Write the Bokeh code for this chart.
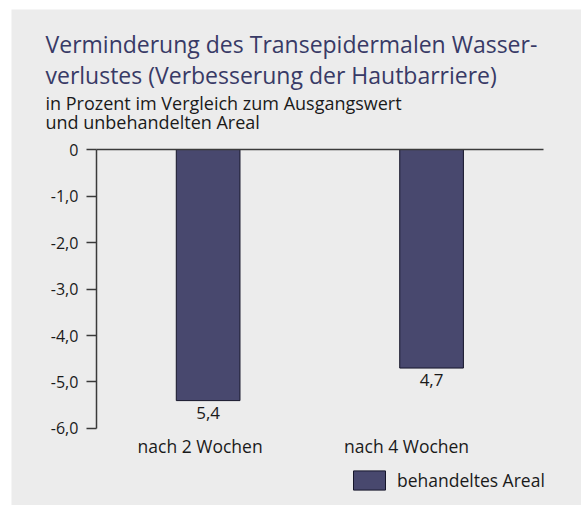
from bokeh.plotting import figure
from bokeh.models import Range1d, ColumnDataSource, Label, Legend, LegendItem, FixedTicker, LinearAxis
from bokeh.embed import file_html
from bokeh.resources import INLINE

categories = ["nach 2 Wochen", "nach 4 Wochen"]
values = [-5.4, -4.7]
value_labels = ["5,4", "4,7"]
y_ticks = [0, -1, -2, -3, -4, -5, -6]
y_tick_labels = ["0", "-1,0", "-2,0", "-3,0", "-4,0", "-5,0", "-6,0"]
series_name = "behandeltes Areal"
title_lines = ["Verminderung des Transepidermalen  Wasser-",
               "verlustes (Verbesserung der Hautbarriere)"]
subtitle_lines = ["in Prozent im Vergleich zum Ausgangswert",
                  "und unbehandelten Areal"]

FONT = "Open Sans"
BG = "#ececec"
BAR = "#48486e"
TITLE_C = "#383a66"
TXT = "#1a1a1a"
AXIS_C = "#3a3a3a"

xs = [i + 0.5 for i in range(len(categories))]
ymin, ymax = min(y_ticks), max(y_ticks)

p = figure(width=581, height=505,
           x_range=Range1d(-0.38, len(categories) + 0.171),
           y_range=Range1d(ymin - 1.656, ymax + 3.011),
           output_backend="svg", toolbar_location=None,
           x_axis_location=None, y_axis_location=None,
           min_border_left=11, min_border_right=0,
           min_border_top=9, min_border_bottom=0)
p.background_fill_color = BG
p.border_fill_color = "white"
p.outline_line_color = None
p.grid.visible = False

# value axis, drawn at x = 0 and limited to the tick range
ax = LinearAxis(fixed_location=0, bounds=(ymin, ymax))
ax.ticker = FixedTicker(ticks=y_ticks)
ax.major_label_overrides = dict(zip(y_ticks, y_tick_labels))
ax.axis_line_color = AXIS_C
ax.axis_line_width = 1.5
ax.major_tick_line_color = AXIS_C
ax.major_tick_line_width = 1.5
ax.major_tick_out = 10
ax.major_tick_in = 0
ax.minor_tick_line_color = None
ax.major_label_standoff = 8
ax.major_label_text_font = FONT
ax.major_label_text_font_size = "16px"
ax.major_label_text_color = TXT
p.add_layout(ax, "left")

# baseline at y = 0 across the categories
bx = LinearAxis(fixed_location=0, bounds=(0, len(categories)))
bx.ticker = FixedTicker(ticks=[])
bx.axis_line_color = AXIS_C
bx.axis_line_width = 1.5
bx.major_tick_line_color = None
bx.minor_tick_line_color = None
p.add_layout(bx, "below")

src = ColumnDataSource(dict(x=xs, val=values, lab=value_labels))

r = p.vbar(x="x", top="val", bottom=0, width=0.285, source=src,
           fill_color=BAR, line_color="#15152a", line_width=1)

p.text(x="x", y="val", text="lab", source=src, text_align="center",
       text_baseline="top", y_offset=6, text_font_size="17px",
       text_color=TXT, text_font={"value": FONT})

cat_offsets = [-8, -25]
for xi, cat, off in zip(xs, categories, cat_offsets):
    p.add_layout(Label(x=xi, y=ymin, text=cat, x_offset=off, y_offset=-6,
                       text_align="center", text_baseline="top",
                       text_font=FONT, text_font_size="17.5px", text_color=TXT))

title_y = [462, 431]
for t, yy in zip(title_lines, title_y):
    p.add_layout(Label(x=34, y=yy, x_units="screen", y_units="screen", text=t,
                       text_align="left", text_baseline="alphabetic",
                       text_font=FONT, text_font_size="23px", text_color=TITLE_C))
sub_y = [403, 384]
for t, yy in zip(subtitle_lines, sub_y):
    p.add_layout(Label(x=34, y=yy, x_units="screen", y_units="screen", text=t,
                       text_align="left", text_baseline="alphabetic",
                       text_font=FONT, text_font_size="18px", text_color=TXT))

legend = Legend(items=[LegendItem(label=series_name, renderers=[r])],
                location=(338, 13), orientation="vertical",
                padding=0, margin=0, spacing=0,
                glyph_width=40, glyph_height=24, label_height=24,
                label_standoff=8, label_text_font=FONT,
                label_text_font_size="17.5px", label_text_color=TXT,
                background_fill_alpha=0, border_line_color=None)
p.add_layout(legend)

open("out.html", "w").write(file_html(p, INLINE))
